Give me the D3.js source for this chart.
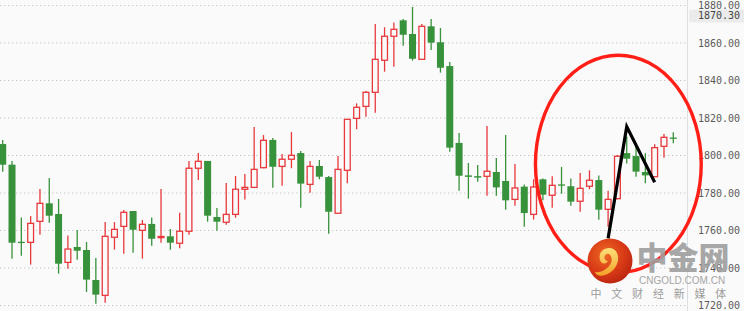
<!DOCTYPE html>
<html><head><meta charset="utf-8">
<script src="https://cdn.jsdelivr.net/npm/d3@7/dist/d3.min.js"></script>
<style>
html,body{margin:0;padding:0;background:#fafafa;}
svg{display:block;}
</style></head>
<body>
<svg id="c" width="744" height="311"></svg>
<script>
// ---- data ----
const open  = [1806.1,1795.1,1754.0,1753.7,1764.9,1774.5,1768.8,1743.0,1751.2,1749.6,
               1733.6,1725.4,1756.4,1762.2,1770.4,1760.1,1763.5,1756.2,1756.9,1753.2,
               1759.6,1793.2,1797.1,1767.2,1764.4,1768.6,1782.0,1783.0,1793.5,1808.3,
               1794.2,1798.0,1801.3,1784.6,1794.4,1788.5,1769.2,1792.1,1819.8,1826.2,
               1833.7,1850.8,1863.6,1872.1,1864.8,1851.3,1868.9,1860.4,1847.7,1806.7,
               1789.4,1789.0,1788.9,1791.2,1786.4,1776.6,1783.4,1768.6,1787.3,1778.8,
               1784.6,1783.6,1775.6,1783.6,1786.9,1771.3,1777.0,1801.3,1799.7,1791.2,
               1788.7,1804.9,1809.6];
const high  = [1808.3,1797.1,1767.0,1767.7,1782.1,1788.0,1776.8,1757.4,1760.3,1753.9,
               1745.3,1764.5,1764.5,1770.9,1770.4,1765.6,1767.0,1782.1,1760.8,1769.5,
               1797.1,1801.3,1797.1,1772.0,1785.3,1789.1,1790.1,1815.2,1810.9,1809.3,
               1800.8,1812.5,1802.4,1797.1,1797.6,1789.1,1799.7,1819.3,1827.8,1834.4,
               1870.1,1868.4,1871.0,1872.8,1879.2,1870.1,1872.8,1868.0,1849.9,1812.0,
               1796.0,1794.9,1815.7,1798.7,1810.9,1795.5,1784.6,1787.3,1787.8,1788.9,
               1793.9,1787.8,1790.7,1792.1,1789.4,1781.2,1800.3,1810.0,1804.7,1801.2,
               1806.0,1811.5,1812.4];
const low   = [1791.4,1745.0,1746.6,1741.8,1757.8,1764.2,1737.0,1739.6,1744.4,1727.2,
               1721.0,1721.5,1749.8,1747.6,1748.2,1745.0,1751.9,1753.5,1749.8,1750.5,
               1757.8,1786.9,1764.7,1759.9,1763.1,1766.8,1776.6,1783.0,1793.2,1782.8,
               1783.9,1793.2,1772.2,1780.2,1787.3,1758.3,1769.2,1785.2,1814.0,1820.7,
               1822.8,1844.7,1847.4,1858.6,1850.6,1851.3,1856.3,1844.2,1802.0,1781.2,
               1777.0,1786.0,1778.6,1778.6,1771.1,1773.2,1762.0,1765.8,1776.1,1772.2,
               1779.6,1773.2,1770.0,1782.0,1765.8,1762.0,1776.6,1795.8,1788.7,1785.2,
               1788.7,1798.8,1806.5];
const close = [1795.1,1753.5,1753.5,1763.8,1774.5,1767.9,1742.3,1750.1,1749.2,1733.8,
               1725.8,1756.9,1760.6,1769.7,1760.4,1763.3,1755.6,1756.8,1753.5,1759.6,
               1793.2,1796.9,1767.9,1764.7,1768.6,1782.0,1783.0,1792.6,1808.1,1794.0,
               1798.0,1800.1,1785.0,1794.2,1788.7,1770.0,1792.6,1819.3,1825.7,1833.7,
               1851.3,1863.6,1867.3,1864.4,1851.6,1868.9,1860.2,1846.8,1804.2,1789.2,
               1788.6,1788.2,1791.6,1783.0,1776.1,1782.7,1769.3,1783.2,1779.1,1784.1,
               1783.9,1775.4,1782.5,1786.8,1771.1,1776.6,1799.6,1798.3,1791.4,1789.4,
               1804.2,1809.7,1809.4];
const categories = open.map((_, i) => i + 1);           // one trading period per candle
const yTicks = [1720, 1740, 1760, 1780, 1800, 1820, 1840, 1860, 1880];
const lastPriceLabel = "1870.30";
// hand-drawn annotation, in (candle, price) terms
const annoLine = [[66, 1755.8], [68, 1815.4], [71, 1785.7]];
const annoEllipse = {center: [67.1, 1795.5], halfCandles: 8.9, halfPrice: 58};
const brand = "中金网", brandUrl = "CNGOLD.COM.CN", brandSlogan = "中文财经新媒体";

// ---- layout ----
const W = 744, H = 311, axisX = 687;
const svg = d3.select("#c");
const x = d3.scalePoint().domain(categories).range([2.7, 673.3]);
const y = d3.scaleLinear().domain([1720, 1880]).range([305.5, 5.5]);
const step = x.step();
const bodyW = 7;
const RED = "#e8383c", GREEN = "#38923b", BG = "#fafafa";

svg.append("rect").attr("width", W).attr("height", H).attr("fill", BG);

// grid
svg.append("g").selectAll("line").data(yTicks).join("line")
  .attr("x1", 0).attr("x2", axisX).attr("y1", d => y(d)).attr("y2", d => y(d))
  .attr("stroke", "#c9c9c9").attr("stroke-width", 1).attr("stroke-dasharray", "1.4,2.6");

// axis line
svg.append("line").attr("x1", axisX + 0.5).attr("x2", axisX + 0.5).attr("y1", 0).attr("y2", H)
  .attr("stroke", "#dedede").attr("stroke-width", 1);

// candles
const data = categories.map((c, i) => ({c, o: open[i], h: high[i], l: low[i], cl: close[i]}));
const g = svg.append("g");
data.forEach(d => {
  const cx = x(d.c);
  const top = Math.max(d.o, d.cl), bot = Math.min(d.o, d.cl);
  const col = d.cl > d.o ? RED : GREEN;
  if (d.cl > d.o) {
    g.append("line").attr("x1", cx).attr("x2", cx).attr("y1", y(d.h)).attr("y2", y(top))
      .attr("stroke", col).attr("stroke-width", 1.3);
    g.append("line").attr("x1", cx).attr("x2", cx).attr("y1", y(bot)).attr("y2", y(d.l))
      .attr("stroke", col).attr("stroke-width", 1.3);
    g.append("rect").attr("x", cx - bodyW / 2 + 0.6).attr("width", bodyW - 1.2)
      .attr("y", y(top)).attr("height", Math.max(1, y(bot) - y(top)))
      .attr("fill", BG).attr("stroke", col).attr("stroke-width", 1.3);
  } else {
    g.append("line").attr("x1", cx).attr("x2", cx).attr("y1", y(d.h)).attr("y2", y(d.l))
      .attr("stroke", col).attr("stroke-width", 1.3);
    g.append("rect").attr("x", cx - bodyW / 2).attr("width", bodyW)
      .attr("y", y(top)).attr("height", Math.max(1.3, y(bot) - y(top)))
      .attr("fill", col);
  }
});

// right axis labels
const axis = d3.axisRight(y).tickValues(yTicks).tickSize(0).tickPadding(11)
  .tickFormat(d3.format(".2f"));
const ag = svg.append("g").attr("transform", `translate(${axisX},0)`).call(axis);
ag.select(".domain").remove();
ag.selectAll("text").attr("font-family", "DejaVu Sans Mono, monospace")
  .attr("font-size", 10).attr("fill", "#5a5a5a");

// last price box (covers part of the top tick label, as in the reference)
svg.append("rect").attr("x", axisX + 2).attr("y", 9.5).attr("width", 60).attr("height", 13)
  .attr("rx", 2).attr("fill", "#ebebeb");
svg.append("text").attr("x", axisX + 11).attr("y", 16).attr("dy", "0.32em")
  .attr("font-family", "DejaVu Sans Mono, monospace").attr("font-size", 10)
  .attr("fill", "#444").text(lastPriceLabel);

// annotation ellipse
const ec = annoEllipse.center;
svg.append("ellipse").attr("cx", x(1) + (ec[0] - 1) * step).attr("cy", y(ec[1]))
  .attr("rx", annoEllipse.halfCandles * step)
  .attr("ry", y(ec[1] - annoEllipse.halfPrice) - y(ec[1]))
  .attr("fill", "none").attr("stroke", "#ff1f17").attr("stroke-width", 3.4);

// annotation polyline
svg.append("path")
  .attr("d", d3.line().x(d => x(d[0])).y(d => y(d[1]))(annoLine))
  .attr("fill", "none").attr("stroke", "#000").attr("stroke-width", 3.2)
  .attr("stroke-linejoin", "miter").attr("stroke-linecap", "butt");

// watermark
const defs = svg.append("defs");
const rg = defs.append("radialGradient").attr("id", "logoG").attr("cx", "40%").attr("cy", "35%").attr("r", "70%");
rg.append("stop").attr("offset", "0%").attr("stop-color", "#ee6a24");
rg.append("stop").attr("offset", "60%").attr("stop-color", "#d83a16");
rg.append("stop").attr("offset", "100%").attr("stop-color", "#b82410");
const yg = defs.append("linearGradient").attr("id", "swG").attr("x1", "0").attr("y1", "0").attr("x2", "0").attr("y2", "1");
yg.append("stop").attr("offset", "0%").attr("stop-color", "#fde07a");
yg.append("stop").attr("offset", "100%").attr("stop-color", "#f2a228");

const lx = 610, ly = 261;
svg.append("circle").attr("cx", lx).attr("cy", ly).attr("r", 22.5).attr("fill", "url(#logoG)");
svg.append("path")
  .attr("d", `M${lx-10},${ly-1} C${lx-13},${ly-13} ${lx+3},${ly-17} ${lx+7},${ly-8}
             C${lx+11},${ly+1} ${lx+4},${ly+11} ${lx-5},${ly+14}
             C${lx-10},${ly+16} ${lx-14},${ly+14} ${lx-15},${ly+11}
             C${lx-9},${ly+12} ${lx-2},${ly+8} ${lx+1},${ly+2}
             C${lx+3},${ly-3} ${lx},${ly-8} ${lx-3},${ly-7}
             C${lx-7},${ly-6} ${lx-6},${ly} ${lx-2},${ly}
             C${lx-5},${ly+4} ${lx-9},${ly+3} ${lx-10},${ly-1} Z`)
  .attr("fill", "url(#swG)");

svg.append("text").attr("x", 636.5).attr("y", 268.5)
  .attr("font-family", "Noto Sans CJK SC, sans-serif").attr("font-weight", 900)
  .attr("font-size", 31).attr("fill", "#9f9f9f").attr("fill-opacity", 0.92).text(brand);
svg.append("text").attr("x", 639).attr("y", 283.5)
  .attr("font-family", "Liberation Sans, Arial, sans-serif").attr("font-size", 10)
  .attr("fill", "#a5a5a5").text(brandUrl);
svg.append("text").attr("x", 590.5).attr("y", 297.5)
  .attr("font-family", "Noto Sans CJK SC, sans-serif").attr("font-size", 11)
  .attr("letter-spacing", 9.8).attr("fill", "#9c9c9c").text(brandSlogan);
</script>
</body></html>
